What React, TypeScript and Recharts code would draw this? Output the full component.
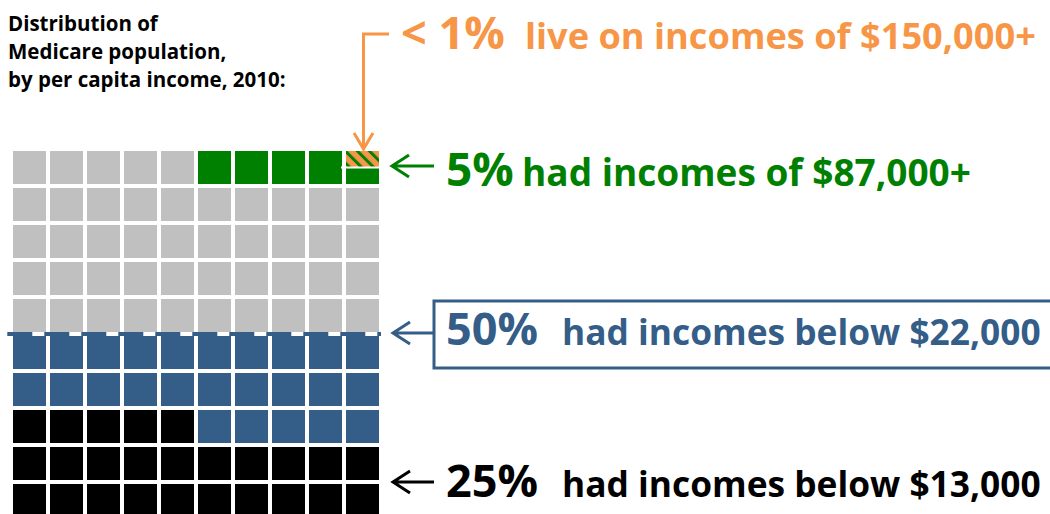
import React from 'react';
import { ScatterChart, Scatter, XAxis, YAxis, ReferenceLine } from 'recharts';

// Medicare population by per capita income, 2010 — each cell is 1% of people
const groups = ['Below $13,000', '$13,000 to $22,000', '$22,000 to $87,000', '$87,000+'];
const groupShares = [25, 25, 45, 5];
const groupColors = ['#000000', '#345D88', '#C0C0C0', '#008000'];
// share (in cells) of the top group that lives on $150,000+
const richShare = 0.5;

const COLS = 10;
const ORANGE = '#F79646';
const BLUE = '#345D88';
const GREEN = '#008000';
const FONT = '"Open Sans", sans-serif';

type WaffleCell = { col: number; row: number; rich: number };

// fill cells from the bottom-left, row by row
const buildCells = () => {
  const out: WaffleCell[][] = [];
  let idx = 0;
  groupShares.forEach((n, g) => {
    const list: WaffleCell[] = [];
    for (let k = 0; k < n; k++) {
      const isLast = g === groupShares.length - 1 && k === n - 1;
      list.push({ col: idx % COLS, row: Math.floor(idx / COLS), rich: isLast ? richShare : 0 });
      idx++;
    }
    out.push(list);
  });
  return out;
};
const cells = buildCells();

const SQ = 33;

const Square = (props: any) => {
  const { cx, cy, fill, payload } = props;
  const x = cx - SQ / 2;
  const y = cy - SQ / 2;
  if (payload?.rich > 0) {
    const h = SQ * payload.rich;
    return (
      <g>
        <rect x={x} y={y} width={SQ} height={SQ} fill={fill} />
        <rect x={x} y={y} width={SQ} height={h} fill="url(#richHatch)" />
        <line x1={x - 5} x2={x + SQ} y1={y + h} y2={y + h} stroke="#fff" strokeWidth={2} />
      </g>
    );
  }
  return <rect x={x} y={y} width={SQ} height={SQ} fill={fill} />;
};

const LeftArrow = ({ x1, x2, y, color }: { x1: number; x2: number; y: number; color: string }) => (
  <path
    d={`M ${x2} ${y} H ${x1} M ${x1 + 17} ${y - 11} L ${x1} ${y} L ${x1 + 17} ${y + 11}`}
    stroke={color}
    strokeWidth={3}
    fill="none"
  />
);

export default function App() {
  return (
    <div style={{ position: 'absolute', left: 0, top: 0, width: 1050, height: 514, overflow: 'hidden', background: '#fff' }}>
      <ScatterChart width={1050} height={520} margin={{ top: 149, right: 669, bottom: 1, left: 11 }}>
        <defs>
          <pattern id="richHatch" patternUnits="userSpaceOnUse" width={8.5} height={8.5} patternTransform="rotate(-45)">
            <rect width={8.5} height={8.5} fill={ORANGE} />
            <rect width={3} height={8.5} fill={GREEN} />
          </pattern>
        </defs>
        <XAxis type="number" dataKey="col" domain={[-0.5, 9.5]} hide />
        <YAxis type="number" dataKey="row" domain={[-0.5, 9.5]} hide />
        {cells.map((list, g) => (
          <Scatter
            key={groups[g]}
            name={groups[g]}
            data={list}
            fill={groupColors[g]}
            shape={<Square />}
            isAnimationActive={false}
          />
        ))}
        <ReferenceLine
          segment={[{ x: -0.6, y: 4.5 }, { x: 9.5, y: 4.5 }]}
          stroke={BLUE}
          strokeWidth={4}
          strokeDasharray="25 12"
          ifOverflow="visible"
        />

        {/* title */}
        <text x={8} y={31} fontFamily={FONT} fontWeight={700} fontSize={20.5} fill="#000">Distribution of</text>
        <text x={8} y={59} fontFamily={FONT} fontWeight={700} fontSize={20.5} fill="#000">Medicare population,</text>
        <text x={8} y={87} fontFamily={FONT} fontWeight={700} fontSize={20.5} fill="#000">by per capita income, 2010:</text>

        {/* < 1% callout */}
        <path d="M 389 34 H 363.5 V 148 M 354 133 L 363.5 149 L 373 133" stroke={ORANGE} strokeWidth={3} fill="none" />
        <text x={401} y={49} fontFamily={FONT} fontWeight={700} fontSize={45} fill={ORANGE}>&lt; 1%</text>
        <text x={525} y={49} fontFamily={FONT} fontWeight={700} fontSize={36.2} fill={ORANGE}>live on incomes of $150,000+</text>

        {/* 5% */}
        <LeftArrow x1={392} x2={434} y={166} color={GREEN} />
        <text x={446} y={186} fontFamily={FONT} fontWeight={700} fontSize={46} fill={GREEN}>5%</text>
        <text x={522} y={186} fontFamily={FONT} fontWeight={700} fontSize={37} fill={GREEN}>had incomes of $87,000+</text>

        {/* 50% */}
        <rect x={434} y={301} width={640} height={67} fill="none" stroke={BLUE} strokeWidth={3} />
        <LeftArrow x1={393} x2={434} y={333} color={BLUE} />
        <text x={446} y={345} fontFamily={FONT} fontWeight={700} fontSize={45} fill={BLUE}>50%</text>
        <text x={562} y={345} fontFamily={FONT} fontWeight={700} fontSize={35.3} fill={BLUE}>had incomes below $22,000</text>

        {/* 25% */}
        <LeftArrow x1={393} x2={434} y={482} color="#000" />
        <text x={446} y={497} fontFamily={FONT} fontWeight={700} fontSize={45} fill="#000">25%</text>
        <text x={562} y={497} fontFamily={FONT} fontWeight={700} fontSize={35.3} fill="#000">had incomes below $13,000</text>
      </ScatterChart>
    </div>
  );
}
